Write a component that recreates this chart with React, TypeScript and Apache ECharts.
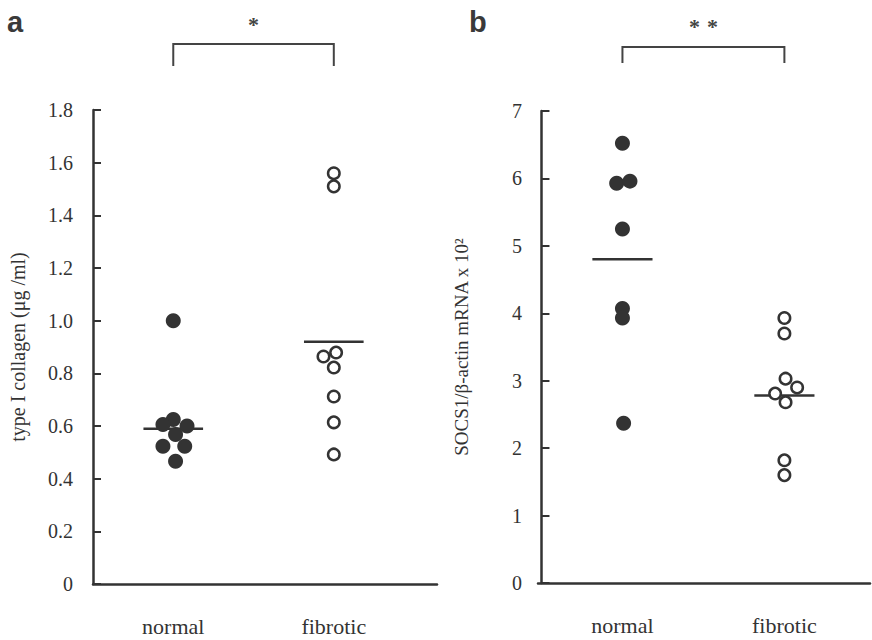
import React, { useEffect, useRef } from "react";
import * as echarts from "echarts";

// Panel a: type I collagen (µg/ml)
const A_NORMAL_Y = [1.0, 0.625, 0.606, 0.6, 0.568, 0.523, 0.523, 0.466];
const A_NORMAL_JITTER = [0, 0, -0.9, 1.2, 0.2, -0.9, 1.0, 0.2];
const A_FIBROTIC_Y = [1.56, 1.51, 0.864, 0.879, 0.822, 0.712, 0.614, 0.492];
const A_FIBROTIC_JITTER = [0, 0, -0.9, 0.2, 0, 0, 0, 0];
const A_MEANS = [0.59, 0.92];

// Panel b: SOCS1/β-actin mRNA x 10^2
const B_NORMAL_Y = [6.52, 5.93, 5.96, 5.25, 4.07, 3.93, 2.37];
const B_NORMAL_JITTER = [0, -0.5, 0.65, 0, 0, 0, 0.1];
const B_FIBROTIC_Y = [3.93, 3.7, 3.03, 2.81, 2.9, 2.68, 1.82, 1.6];
const B_FIBROTIC_JITTER = [0, 0, 0.1, -0.8, 1.1, 0.1, 0, 0];
const B_MEANS = [4.8, 2.78];

const CATEGORIES = ["normal", "fibrotic"];
const CAT_POS = [7, 21];
const A_TICKS_MAX = 1.8;
const B_TICKS_MAX = 7;

const INK = "#333";
const SERIF = "'Liberation Serif', 'DejaVu Serif', serif";
const SANS = "'Liberation Sans', Arial, sans-serif";

function pts(pos: number, ys: number[], jit: number[]) {
  return ys.map((y, i) => [pos + jit[i], y]);
}
function meanLine(pos: number, m: number) {
  return [[pos - 2.6, m], [pos + 2.6, m]];
}

export default function App() {
  const ref = useRef<HTMLDivElement>(null);
  useEffect(() => {
    if (!ref.current) return;
    const chart = echarts.init(ref.current, null, { renderer: "svg" });
    const xLabelFmt = (v: number) => {
      const i = CAT_POS.findIndex((p) => Math.abs(p - v) < 0.01);
      return i >= 0 ? CATEGORIES[i] : "";
    };
    const xAxisBase = (min: number, max: number, idx: number) => ({
      type: "value",
      gridIndex: idx,
      min,
      max,
      splitLine: { show: false },
      axisTick: { show: false },
      axisLine: { show: true, onZero: false, lineStyle: { color: INK, width: 2.5 } },
      axisLabel: {
        customValues: CAT_POS,
        formatter: xLabelFmt,
        margin: 31,
        color: INK,
        fontFamily: SERIF,
        fontSize: 22,
      },
    });
    const yAxisBase = (idx: number, max: number, interval: number, name: string, gap: number, nameSize: number, margin: number, fmt: (v: number) => string) => ({
      type: "value",
      gridIndex: idx,
      min: 0,
      max,
      interval,
      name,
      nameLocation: "middle",
      nameGap: gap,
      nameTextStyle: { color: INK, fontFamily: SERIF, fontSize: nameSize },
      splitLine: { show: false },
      axisLine: { show: true, lineStyle: { color: INK, width: 2.5 } },
      axisTick: { show: true, inside: true, length: 8, lineStyle: { color: INK, width: 2 } },
      axisLabel: { color: INK, fontFamily: SERIF, fontSize: 20, margin, formatter: fmt },
    });
    const filled = { color: INK, opacity: 1 };
    const hollow = { color: "#fff", borderColor: INK, borderWidth: 2.5, opacity: 1 };
    const meanStyle = { color: INK, width: 2.5 };
    const option: any = {
      animation: false,
      backgroundColor: "#fff",
      grid: [
        { left: 93, top: 110, width: 344, height: 474 },
        { left: 538, top: 111, width: 332, height: 472 },
      ],
      xAxis: [xAxisBase(0, 30, 0), xAxisBase(-0.3, 28.4, 1)],
      yAxis: [
        yAxisBase(0, A_TICKS_MAX, 0.2, "type I collagen (μg /ml)", 65, 20, 20, (v: number) => (v === 0 ? "0" : v.toFixed(1))),
        yAxisBase(1, B_TICKS_MAX, 1, "SOCS1/β-actin mRNA x 10²", 67, 19, 16, (v: number) => String(v)),
      ],
      series: [
        { type: "scatter", xAxisIndex: 0, yAxisIndex: 0, symbol: "circle", symbolSize: 15, itemStyle: filled, data: pts(CAT_POS[0], A_NORMAL_Y, A_NORMAL_JITTER) },
        { type: "scatter", xAxisIndex: 0, yAxisIndex: 0, symbol: "circle", symbolSize: 11.5, itemStyle: hollow, data: pts(CAT_POS[1], A_FIBROTIC_Y, A_FIBROTIC_JITTER) },
        { type: "line", xAxisIndex: 0, yAxisIndex: 0, symbol: "none", lineStyle: meanStyle, data: meanLine(CAT_POS[0], A_MEANS[0]), z: 1 },
        { type: "line", xAxisIndex: 0, yAxisIndex: 0, symbol: "none", lineStyle: meanStyle, data: meanLine(CAT_POS[1], A_MEANS[1]), z: 1 },
        { type: "scatter", xAxisIndex: 1, yAxisIndex: 1, symbol: "circle", symbolSize: 15, itemStyle: filled, data: pts(CAT_POS[0], B_NORMAL_Y, B_NORMAL_JITTER) },
        { type: "scatter", xAxisIndex: 1, yAxisIndex: 1, symbol: "circle", symbolSize: 11.5, itemStyle: hollow, data: pts(CAT_POS[1], B_FIBROTIC_Y, B_FIBROTIC_JITTER) },
        { type: "line", xAxisIndex: 1, yAxisIndex: 1, symbol: "none", lineStyle: meanStyle, data: meanLine(CAT_POS[0], B_MEANS[0]), z: 1 },
        { type: "line", xAxisIndex: 1, yAxisIndex: 1, symbol: "none", lineStyle: meanStyle, data: meanLine(CAT_POS[1], B_MEANS[1]), z: 1 },
      ],
    };
    chart.setOption(option);

    const px = (g: number, x: number) =>
      (chart.convertToPixel({ xAxisIndex: g, yAxisIndex: g } as any, [x, 0]) as number[])[0];
    const bracket = (g: number, top: number, bottom: number) => {
      const l = px(g, CAT_POS[0]);
      const r = px(g, CAT_POS[1]);
      return {
        type: "polyline",
        shape: { points: [[l, bottom], [l, top], [r, top], [r, bottom]] },
        style: { stroke: "#444", lineWidth: 2, fill: null },
      };
    };
    const midA = (px(0, CAT_POS[0]) + px(0, CAT_POS[1])) / 2;
    const midB = (px(1, CAT_POS[0]) + px(1, CAT_POS[1])) / 2;
    const star = (x: number, y: number) => ({
      type: "text",
      x,
      y,
      style: { text: "*", fill: "#444", font: `bold 22px ${SERIF}`, align: "center", verticalAlign: "middle" },
    });
    chart.setOption({
      graphic: [
        { type: "text", x: 7, y: 22, style: { text: "a", fill: "#3a3a3a", font: `bold 29px ${SANS}`, verticalAlign: "middle" } },
        { type: "text", x: 469, y: 22, style: { text: "b", fill: "#3a3a3a", font: `bold 29px ${SANS}`, verticalAlign: "middle" } },
        bracket(0, 44, 66),
        bracket(1, 47, 63),
        star(midA, 24),
        star(midB - 9, 26),
        star(midB + 9, 26),
      ],
    });
    return () => chart.dispose();
  }, []);
  return (
    <div
      ref={ref}
      style={{ position: "fixed", left: 0, top: 0, width: 872, height: 640, background: "#fff" }}
    />
  );
}
